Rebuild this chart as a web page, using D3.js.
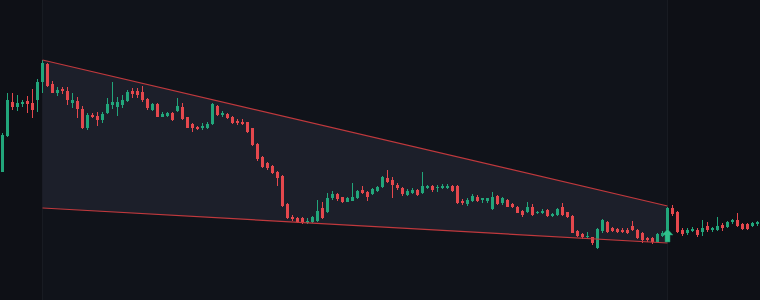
<!DOCTYPE html>
<html>
<head>
<meta charset="utf-8">
<script src="https://cdn.jsdelivr.net/npm/d3@7"></script>
<style>
  html, body { margin: 0; padding: 0; background: #0e1016; }
  svg { display: block; }
</style>
</head>
<body>
<svg id="chart"></svg>
<script>
// candle values (price units)
const opens = [128,164,198,193,196,199,197,200,218,236,216,207,211,209,197,199,191,172,185,184,
  180,187,195,193,195,199,209,209,208,201,190,196,183,184,187,189,193,183,176,173,
  172,172,176,194,185,186,183,179,178,178,172,156,143,137,134,128,124,96,83,82,
  82,77,78,79,92,88,102,106,103,98,99,102,110,108,106,109,113,122,120,115,
  112,105,107,110,107,112,114,112,112,112,114,114,99,96,99,103,100,99,91,104,
  97,100,96,93,89,88,93,87,87,90,84,85,93,88,84,69,66,63,63,52,
  69,78,72,71,70,70,74,70,67,62,62,58,64,67,92,88,70,67,69,70,
  68,74,70,70,75,73,78,80,76,76,74,76];
const highs = [167,207,207,205,200,204,211,221,240,237,219,213,213,213,207,203,194,187,187,188,
  188,202,218,203,205,210,212,212,214,202,197,197,188,188,188,202,197,183,177,174,
  177,178,197,195,189,187,184,181,181,178,172,157,144,138,135,129,125,97,85,83,
  83,82,84,100,98,107,109,107,103,103,117,110,114,109,112,114,124,130,123,117,
  113,111,112,111,128,115,115,115,116,116,115,115,101,102,106,105,102,102,108,105,
  103,101,97,94,90,98,96,89,91,91,87,92,97,88,85,70,67,68,63,72,
  81,79,73,72,72,72,79,71,68,63,63,67,69,93,95,89,72,72,73,72,
  80,78,73,83,77,79,81,87,77,77,78,79];
const lows = [128,163,190,189,193,187,182,188,207,213,207,204,206,195,192,182,171,170,182,174,
  177,186,191,184,192,198,202,202,198,190,189,183,183,183,179,188,180,172,168,170,
  170,171,175,184,183,181,176,175,175,167,154,139,132,130,126,114,93,81,79,77,
  76,76,77,78,81,87,100,99,97,98,99,101,106,99,105,108,112,117,102,110,
  104,104,106,104,106,111,108,108,111,111,108,96,95,94,98,98,97,97,90,95,
  95,93,92,87,83,87,84,86,86,83,83,84,84,82,67,63,61,62,55,51,
  67,67,68,67,67,66,69,61,57,58,56,58,63,66,84,67,64,65,68,63,
  64,68,68,69,69,72,76,73,70,70,73,74];
const closes = [165,200,193,197,198,196,190,218,237,214,207,210,209,200,200,191,172,185,183,180,
  186,196,198,198,200,208,206,205,200,192,196,183,186,187,180,194,181,172,172,171,
  174,176,196,185,187,182,177,177,176,168,155,141,133,132,127,122,94,82,81,78,
  77,79,83,89,82,102,106,101,98,102,103,109,107,103,111,113,123,118,115,112,
  106,109,110,105,114,114,110,113,114,114,109,97,97,100,104,99,102,102,103,96,
  102,93,93,87,85,93,85,88,89,84,86,91,85,83,67,64,63,64,57,71,
  80,68,69,68,68,67,70,62,60,60,58,66,67,92,86,68,66,70,71,65,
  72,70,72,74,72,78,80,74,71,71,77,78];

// falling wedge: candle index of its ends, upper and lower boundary prices
const wedgeIdx = [8, 133];
const wedgeUpper = [240, 94];
const wedgeLower = [92, 57];
// breakout marker
const breakoutIdx = 133;
const breakoutPrice = [58, 71];

const width = 760, height = 300;
const upColor = '#22a67b', downColor = '#e5484d';

const svg = d3.select('#chart').attr('width', width).attr('height', height);

const x = d3.scaleLinear().domain([-0.5, opens.length - 0.5]).range([0, width]);
const y = d3.scaleLinear().domain([0, 300]).range([height, 0]);

svg.append('rect').attr('width', width).attr('height', height).attr('fill', '#0e1016');

// pattern zone
const x0 = x(wedgeIdx[0]), x1 = x(wedgeIdx[1]);
svg.append('rect')
    .attr('x', x0).attr('y', 0)
    .attr('width', x1 - x0).attr('height', height)
    .attr('fill', '#10131a');
svg.selectAll('line.zone')
    .data(wedgeIdx)
    .enter()
    .append('line')
    .attr('class', 'zone')
    .attr('x1', d => x(d)).attr('x2', d => x(d))
    .attr('y1', 0).attr('y2', height)
    .attr('stroke', '#181b22')
    .attr('stroke-width', 1);

const area = [
    [x(wedgeIdx[0]), y(wedgeUpper[0])],
    [x(wedgeIdx[1]), y(wedgeUpper[1])],
    [x(wedgeIdx[1]), y(wedgeLower[1])],
    [x(wedgeIdx[0]), y(wedgeLower[0])]
];
svg.append('polygon')
    .attr('points', area.map(p => p.join(',')).join(' '))
    .attr('fill', '#1c1f2a');

const candles = opens.map((o, i) => ({ i, o, h: highs[i], l: lows[i], c: closes[i] }));

const g = svg.append('g');
const candle = g.selectAll('g.candle')
    .data(candles)
    .enter()
    .append('g')
    .attr('class', 'candle');

candle.append('line')
    .attr('x1', d => x(d.i)).attr('x2', d => x(d.i))
    .attr('y1', d => y(d.h)).attr('y2', d => y(d.l))
    .attr('stroke', d => d.c >= d.o ? upColor : downColor)
    .attr('stroke-width', 1);

candle.append('rect')
    .attr('x', d => x(d.i) - 1.5)
    .attr('y', d => y(Math.max(d.o, d.c)))
    .attr('width', 3)
    .attr('height', d => Math.max(1, Math.abs(y(d.o) - y(d.c))))
    .attr('fill', d => d.c >= d.o ? upColor : downColor);

// wedge boundary lines
[wedgeUpper, wedgeLower].forEach(vals => {
    svg.append('line')
        .attr('x1', x(wedgeIdx[0])).attr('y1', y(vals[0]))
        .attr('x2', x(wedgeIdx[1])).attr('y2', y(vals[1]))
        .attr('stroke', '#c0393d')
        .attr('stroke-width', 1.2);
});

// breakout arrow
const ax = x(breakoutIdx), aTop = y(breakoutPrice[1]), aBot = y(breakoutPrice[0]);
const headH = 6;
svg.append('path')
    .attr('d', `M${ax},${aTop} L${ax + 5.5},${aTop + headH} L${ax + 2.5},${aTop + headH} L${ax + 2.5},${aBot}
                L${ax - 2.5},${aBot} L${ax - 2.5},${aTop + headH} L${ax - 5.5},${aTop + headH} Z`)
    .attr('fill', '#2fc08c')
    .attr('stroke', '#1e8a64')
    .attr('stroke-width', 0.5);
</script>
</body>
</html>
